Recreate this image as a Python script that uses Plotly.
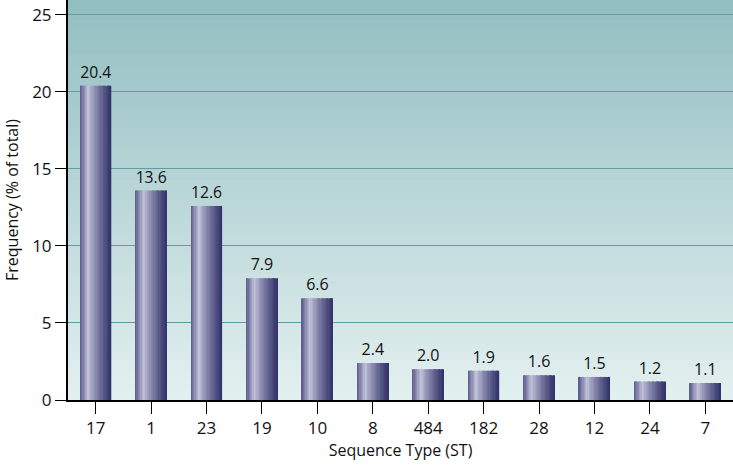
import plotly.graph_objects as go

# data
sequence_types = ["17", "1", "23", "19", "10", "8", "484", "182", "28", "12", "24", "7"]
frequency = [20.4, 13.6, 12.6, 7.9, 6.6, 2.4, 2.0, 1.9, 1.6, 1.5, 1.2, 1.1]
y_ticks = [0, 5, 10, 15, 20, 25]


def lerp_color(c1, c2, t):
    return "#%02x%02x%02x" % tuple(round(a + (b - a) * t) for a, b in zip(c1, c2))


FONT = "Open Sans"
bar_width = 0.56
n_slices = 24

# horizontal "cylinder" shading for the bars: left edge -> highlight -> dark right edge
left_edge = (0x58, 0x58, 0x8a)
highlight = (0xc4, 0xc4, 0xdc)
right_edge = (0x32, 0x32, 0x6a)
hi_pos = 0.28

fig = go.Figure()

for i in range(n_slices):
    t = (i + 0.5) / n_slices
    if t < hi_pos:
        col = lerp_color(left_edge, highlight, t / hi_pos)
    else:
        col = lerp_color(highlight, right_edge, ((t - hi_pos) / (1 - hi_pos)) ** 0.8)
    slice_w = bar_width / n_slices
    fig.add_trace(
        go.Bar(
            x=sequence_types,
            y=frequency,
            width=slice_w * 1.05,
            offset=-bar_width / 2 + i * slice_w,
            marker=dict(color=col, line=dict(width=0)),
            hoverinfo="skip",
            showlegend=False,
        )
    )

# value labels on top
fig.add_trace(
    go.Bar(
        x=sequence_types,
        y=frequency,
        width=bar_width,
        marker=dict(color="rgba(0,0,0,0)", line=dict(width=0)),
        text=[f"{v:.1f}" for v in frequency],
        textposition="outside",
        textfont=dict(family=FONT, size=16, color="#111111"),
        cliponaxis=False,
        showlegend=False,
    )
)

# vertical gradient background, teal at top to pale at bottom
top_col = (0x92, 0xbe, 0xc1)
bottom_col = (0xe4, 0xf0, 0xf0)
n_strips = 60
shapes = []
for k in range(n_strips):
    y0 = k / n_strips
    y1 = (k + 1) / n_strips
    shapes.append(
        dict(
            type="rect",
            xref="paper",
            yref="paper",
            x0=0,
            x1=1,
            y0=y0,
            y1=y1 + 0.002,
            fillcolor=lerp_color(bottom_col, top_col, (k + 0.5) / n_strips),
            line=dict(width=0),
            layer="below",
        )
    )

fig.update_layout(
    width=733,
    height=468,
    margin=dict(l=68, r=0, t=0, b=68),
    barmode="overlay",
    paper_bgcolor="white",
    plot_bgcolor="rgba(0,0,0,0)",
    shapes=shapes,
    font=dict(family=FONT, size=16, color="#111111"),
    showlegend=False,
)

fig.update_xaxes(
    type="category",
    range=[-0.5, 11.5],
    showline=True,
    linecolor="black",
    linewidth=2,
    ticks="outside",
    ticklen=12,
    tickcolor="black",
    tickwidth=1,
    tickfont=dict(family=FONT, size=17, color="#111111"),
    showgrid=False,
    title=dict(text="Sequence Type (ST)", font=dict(family=FONT, size=16), standoff=1),
)

fig.update_yaxes(
    range=[0, 25.97],
    tickvals=y_ticks,
    showline=True,
    linecolor="black",
    linewidth=2,
    ticks="outside",
    ticklen=11,
    tickcolor="black",
    tickwidth=1,
    tickfont=dict(family=FONT, size=17, color="#111111"),
    showgrid=True,
    gridcolor="#5e9ea0",
    gridwidth=1,
    zeroline=False,
    title=dict(text="Frequency (% of total)", font=dict(family=FONT, size=16), standoff=10),
)

fig.write_html(
    "out.html",
    config={"displayModeBar": False},
    post_script="document.body.style.margin='0';",
)
